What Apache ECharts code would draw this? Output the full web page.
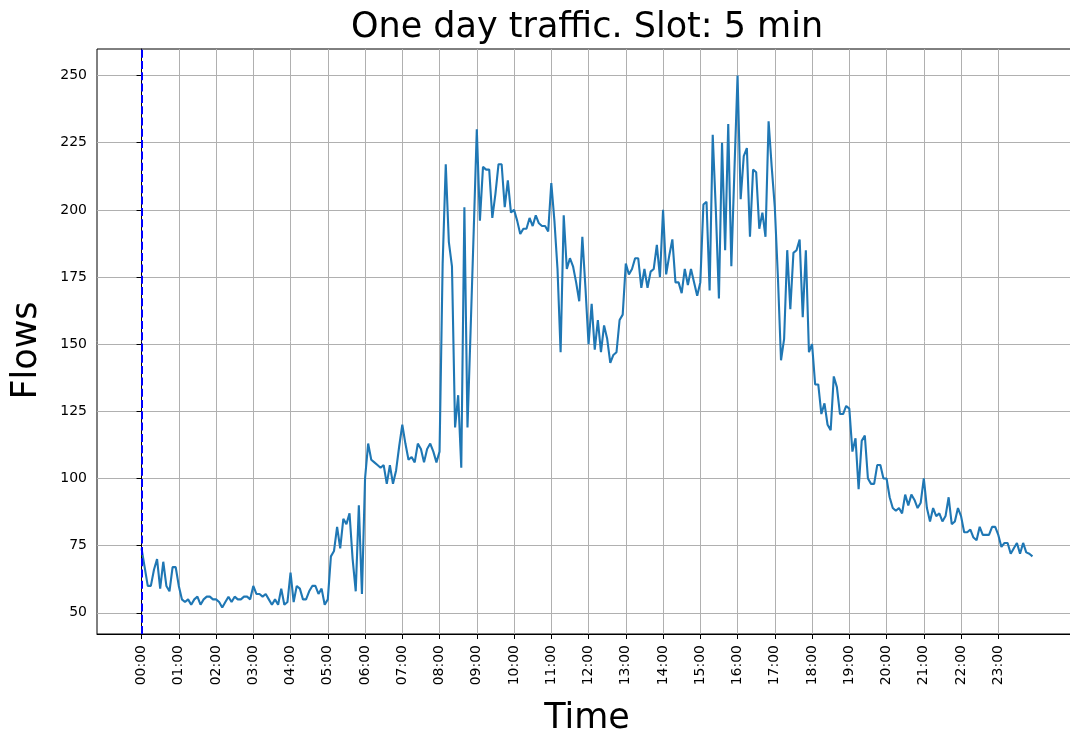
<!DOCTYPE html>
<html>
<head>
<meta charset="utf-8">
<script src="https://cdn.jsdelivr.net/npm/echarts@6/dist/echarts.min.js"></script>
<style>
  html, body { margin: 0; padding: 0; background: #fff; }
  #main { width: 1070px; height: 738px; }
</style>
</head>
<body>
<div id="main"></div>
<script>
// tick labels
const hourLabels = ["00:00", "01:00", "02:00", "03:00", "04:00", "05:00", "06:00", "07:00",
  "08:00", "09:00", "10:00", "11:00", "12:00", "13:00", "14:00", "15:00",
  "16:00", "17:00", "18:00", "19:00", "20:00", "21:00", "22:00", "23:00"];
const yTicks = [50, 75, 100, 125, 150, 175, 200, 225, 250];

// flows per 5 min slot, 00:00 - 05:55
const flowsNight = [
  74, 67, 60, 60, 66, 70, 59, 69, 60, 58, 67, 67,
  60, 55, 54, 55, 53, 55, 56, 53, 55, 56, 56, 55,
  55, 54, 52, 54, 56, 54, 56, 55, 55, 56, 56, 55,
  60, 57, 57, 56, 57, 55, 53, 55, 53, 59, 53, 54,
  65, 54, 60, 59, 55, 55, 58, 60, 60, 57, 59, 53,
  55, 71, 73, 82, 74, 85, 83, 87, 70, 58, 90, 57
];
// 06:00 - 11:55
const flowsMorning = [
  100, 113, 107, 106, 105, 104, 105, 98, 105, 98, 103, 112,
  120, 113, 107, 108, 106, 113, 111, 106, 111, 113, 110, 106,
  110, 180, 217, 188, 179, 119, 131, 104, 201, 119, 155, 192,
  230, 196, 216, 215, 215, 197, 206, 217, 217, 201, 211, 199,
  200, 196, 191, 193, 193, 197, 194, 198, 195, 194, 194, 192,
  210, 196, 178, 147, 198, 178, 182, 179, 173, 166, 190, 171
];
// 12:00 - 17:55
const flowsAfternoon = [
  150, 165, 148, 159, 147, 157, 152, 143, 146, 147, 159, 161,
  180, 176, 178, 182, 182, 171, 178, 171, 177, 178, 187, 175,
  200, 176, 183, 189, 173, 173, 169, 178, 172, 178, 173, 168,
  173, 202, 203, 170, 228, 200, 167, 225, 185, 232, 179, 215,
  250, 204, 220, 223, 190, 215, 214, 193, 199, 190, 233, 216,
  201, 175, 144, 152, 185, 163, 184, 185, 189, 160, 185, 147
];
// 18:00 - 23:55
const flowsEvening = [
  150, 135, 135, 124, 128, 120, 118, 138, 134, 124, 124, 127,
  126, 110, 115, 96, 114, 116, 100, 98, 98, 105, 105, 100,
  100, 93, 89, 88, 89, 87, 94, 90, 94, 92, 89, 91,
  100, 89, 84, 89, 86, 87, 84, 86, 93, 83, 84, 89,
  86, 80, 80, 81, 78, 77, 82, 79, 79, 79, 82, 82,
  79, 74.5, 76, 76, 72, 74, 76, 72, 76, 72.5, 72, 71
];

const flows = flowsNight.concat(flowsMorning, flowsAfternoon, flowsEvening);
const seriesData = flows.map((v, i) => [i, v]);
const hourTicks = hourLabels.map((h, i) => i * 12);

const font = "DejaVu Sans";
const chart = echarts.init(document.getElementById("main"));
chart.setOption({
  animation: false,
  title: {
    text: "One day traffic. Slot: 5 min",
    left: 582,
    top: 5,
    textAlign: "center",
    textStyle: { fontFamily: font, fontSize: 35, fontWeight: "normal", color: "#000" }
  },
  grid: {
    left: 97,
    top: 49,
    width: 980,
    height: 585,
    outerBoundsMode: "none",
    containLabel: false,
    show: true,
    borderColor: "#000",
    borderWidth: 1
  },
  xAxis: {
    type: "value",
    min: -14.35,
    max: 301.35,
    name: "Time",
    nameLocation: "middle",
    nameGap: 67,
    nameTextStyle: { fontFamily: font, fontSize: 35, color: "#000" },
    axisLine: { onZero: false, lineStyle: { color: "#000", width: 1 } },
    axisTick: { customValues: hourTicks, length: 5, lineStyle: { color: "#000" } },
    axisLabel: {
      customValues: hourTicks,
      rotate: 90,
      margin: 11,
      fontFamily: font,
      fontSize: 14,
      color: "#000",
      formatter: v => hourLabels[Math.round(v / 12)]
    },
    splitLine: { show: true, lineStyle: { color: "#b0b0b0", width: 1 } }
  },
  yAxis: {
    type: "value",
    min: 42.1,
    max: 259.9,
    name: "Flows",
    nameLocation: "middle",
    nameGap: 53,
    nameTextStyle: { fontFamily: font, fontSize: 35, color: "#000", padding: [0, 18, 0, 0] },
    axisLine: { show: true, lineStyle: { color: "#000", width: 1 } },
    axisTick: { show: true, customValues: yTicks, length: 5, lineStyle: { color: "#000" } },
    axisLabel: { customValues: yTicks, margin: 10, fontFamily: font, fontSize: 14, color: "#000" },
    splitLine: { show: true, lineStyle: { color: "#b0b0b0", width: 1 } }
  },
  series: [{
    type: "line",
    data: seriesData,
    showSymbol: false,
    lineStyle: { color: "#1f77b4", width: 2.1 },
    itemStyle: { color: "#1f77b4" },
    markLine: {
      silent: true,
      symbol: "none",
      label: { show: false },
      lineStyle: { color: "#0000ff", type: [8, 3.3], width: 2 },
      data: [{ xAxis: 0 }]
    }
  }]
});
</script>
</body>
</html>
